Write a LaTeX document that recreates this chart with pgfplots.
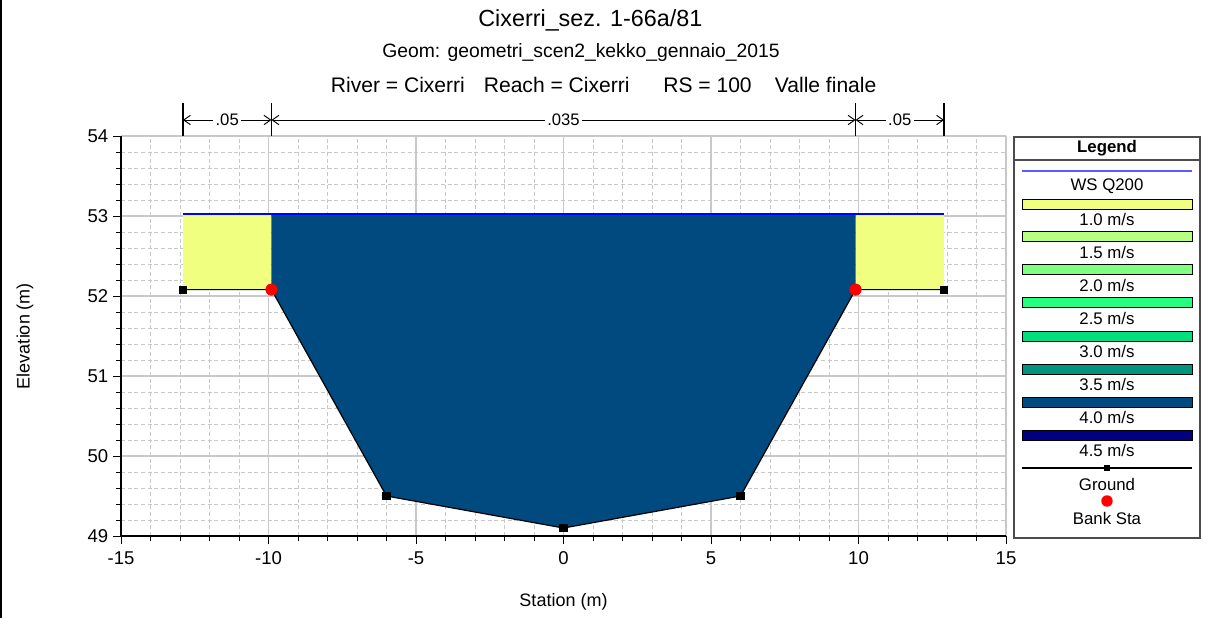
\documentclass[border=0pt]{standalone}
\usepackage{fontspec}
\setmainfont{Liberation Sans}
\usepackage{pgfplots}
\pgfplotsset{compat=1.18}
\usetikzlibrary{arrows.meta}
\definecolor{vA}{RGB}{240,255,128}
\definecolor{vB}{RGB}{182,255,128}
\definecolor{vC}{RGB}{128,255,128}
\definecolor{vD}{RGB}{36,255,128}
\definecolor{vE}{RGB}{0,222,128}
\definecolor{vF}{RGB}{0,148,126}
\definecolor{vG}{RGB}{0,74,128}
\definecolor{vH}{RGB}{0,0,128}
\definecolor{gridgray}{RGB}{200,200,200}
\definecolor{wsleg}{RGB}{90,90,255}
\newcommand\fs[1]{\fontsize{#1}{#1}\selectfont}
\begin{document}
\begin{tikzpicture}
\useasboundingbox (-90.75pt,-61.5pt) rectangle (813.75pt,402pt);
\fill[white] (-90.75pt,-61.5pt) rectangle (813.75pt,402pt);
\draw[black, line width=1.5pt] (-89.9pt,-61.5pt) -- (-89.9pt,402pt);
\begin{axis}[
  at={(0,0)}, anchor=south west,
  scale only axis, width=663.75pt, height=300pt,
  xmin=-15, xmax=15, ymin=49, ymax=54,
  xtick={-15,-10,...,15}, ytick={49,50,...,54},
  minor x tick num=4, minor y tick num=4,
  grid=both,
  major grid style={gridgray, line width=0.8pt},
  minor grid style={gridgray, dash pattern=on 3pt off 2pt, line width=0.6pt},
  axis lines*=left,
  axis line style={black, line width=1pt},
  tick align=outside,
  major tick length=6pt, minor tick length=4pt,
  every tick/.style={black, line width=0.7pt},
  /pgf/number format/assume math mode=true,
  ticklabel style={font=\fs{13.9}},
  xticklabel style={yshift=-2pt},
  xlabel={Station (m)}, ylabel={Elevation (m)},
  every axis x label/.style={at={(axis description cs:0.5,-0.165)}, anchor=center, font=\fs{13.5}},
  every axis y label/.style={at={(axis description cs:-0.1085,0.5)}, anchor=center, rotate=90, font=\fs{13.5}},
  clip=false,
]
% velocity-coloured flow areas
\addplot[fill=vA, draw=none] coordinates {(-12.9,52.08) (-9.9,52.08) (-9.9,53.02) (-12.9,53.02)} -- cycle;
\addplot[fill=vG, draw=none] coordinates {(-9.9,53.02) (-9.9,52.08) (-6,49.5) (0,49.1) (6,49.5) (9.9,52.08) (9.9,53.02)} -- cycle;
\addplot[fill=vA, draw=none] coordinates {(9.9,52.08) (12.9,52.08) (12.9,53.02) (9.9,53.02)} -- cycle;
% water surface
\addplot[blue, line width=1.5pt] coordinates {(-12.9,53.02) (12.9,53.02)};
% ground
\addplot[black, line width=0.9pt, mark=square*, mark size=2.6pt, mark options={solid}] coordinates {(-12.9,52.08) (-9.9,52.08) (-6,49.5) (0,49.1) (6,49.5) (9.9,52.08) (12.9,52.08)};
% bank stations
\addplot[only marks, mark=*, mark size=4.3pt, color=red] coordinates {(-9.9,52.08) (9.9,52.08)};
% Manning's n
\foreach \xx in {-12.9,-9.9,9.9,12.9} {
  \edef\tmp{\noexpand\draw[black, line width=0.9pt] (axis cs:\xx,54) -- (axis cs:\xx,54.41);}\tmp
}
\draw[black, line width=0.7pt, {Straight Barb[length=5pt,width=7pt]}-{Straight Barb[length=5pt,width=7pt]}] (axis cs:-12.9,54.2) -- (axis cs:-9.9,54.2) node[midway, fill=white, inner sep=2pt, font=\fs{12.5}] {.05};
\draw[black, line width=0.7pt, {Straight Barb[length=5pt,width=7pt]}-{Straight Barb[length=5pt,width=7pt]}] (axis cs:-9.9,54.2) -- (axis cs:9.9,54.2) node[midway, fill=white, inner sep=2pt, font=\fs{12.5}] {.035};
\draw[black, line width=0.7pt, {Straight Barb[length=5pt,width=7pt]}-{Straight Barb[length=5pt,width=7pt]}] (axis cs:9.9,54.2) -- (axis cs:12.9,54.2) node[midway, fill=white, inner sep=2pt, font=\fs{12.5}] {.05};
\end{axis}
% titles
\node[font=\fs{17.5}] at (352pt,387pt) {Cixerri\_sez. 1-66a/81};
\node[font=\fs{14.5}] at (345pt,362.25pt) {Geom: geometri\_scen2\_kekko\_gennaio\_2015};
\node[font=\fs{15.8}] at (362pt,338.25pt) {River = Cixerri\hspace{0.9em}Reach = Cixerri\hspace{1.6em}RS = 100\hspace{1.1em}Valle finale};
% legend
\draw[black!70, line width=1pt] (669.75pt,-1.5pt) rectangle (809.25pt,299.25pt);
\draw[black!70, line width=0.8pt] (669.75pt,282pt) -- (809.25pt,282pt);
\node[font=\bfseries\fs{12.6}] at (739.5pt,291pt) {Legend};
\draw[wsleg, line width=1.2pt] (675.75pt,273.75pt) -- (803.25pt,273.75pt);
\node[font=\fs{12.6}] at (739.5pt,262.5pt) {WS Q200};
\foreach \c/\yb/\yt/\t in {vA/249/237.75/1.0,vB/225/213/1.5,vC/200.25/188.25/2.0,vD/175.5/163.5/2.5,vE/150/138.75/3.0,vF/125.25/114/3.5,vG/100.5/89.25/4.0,vH/75.75/64.5/4.5} {
  \draw[fill=\c, draw=black, line width=0.6pt] (675.75pt,\yb pt-3.75pt) rectangle (803.25pt,\yb pt+3.75pt);
  \node[font=\fs{12.6}] at (739.5pt,\yt pt) {\t\ m/s};
}
\draw[black, line width=0.9pt] (675.75pt,51pt) -- (803.25pt,51pt);
\fill[black] (736.9pt,48.4pt) rectangle (742.1pt,53.6pt);
\node[font=\fs{12.6}] at (739.5pt,39pt) {Ground};
\fill[red] (739.5pt,26.25pt) circle (4.3pt);
\node[font=\fs{12.6}] at (739.5pt,13.5pt) {Bank Sta};
\end{tikzpicture}
\end{document}
